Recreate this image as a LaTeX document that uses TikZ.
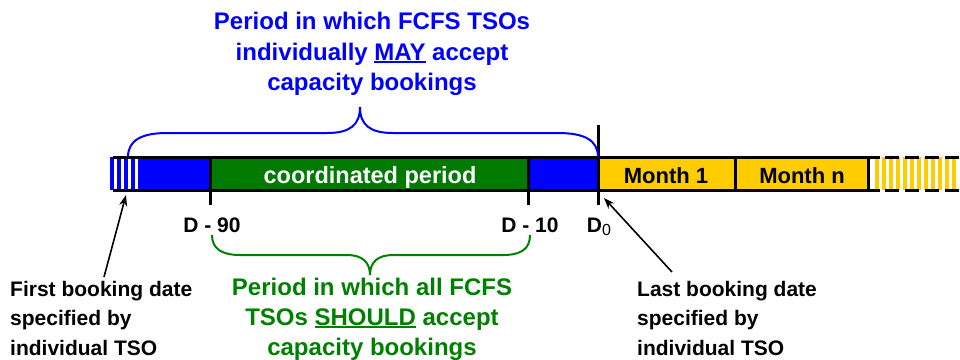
\documentclass[tikz,border=0pt]{standalone}
\usepackage{fontspec}
\setmainfont{Liberation Sans}
\usetikzlibrary{arrows.meta}
\definecolor{myblue}{RGB}{0,0,255}
\definecolor{mygreen}{RGB}{0,128,0}
\definecolor{bargreen}{RGB}{0,122,0}
\definecolor{myyellow}{RGB}{255,204,0}
\newcommand\myul[1]{\setbox0\hbox{#1}\rlap{\rule[-3pt]{\wd0}{1.6pt}}\box0\relax}
\begin{document}
\begin{tikzpicture}[x=1pt,y=-1pt,
  bluetxt/.style={font=\fontsize{24}{24}\selectfont\bfseries, text=myblue, anchor=base, inner sep=0pt},
  greentxt/.style={font=\fontsize{24}{24}\selectfont\bfseries, text=mygreen, anchor=base, inner sep=0pt},
  blacktxt/.style={font=\fontsize{21}{21}\selectfont\bfseries, anchor=base west, inner sep=0pt},
  datetxt/.style={font=\fontsize{21}{21}\selectfont\bfseries, anchor=base, inner sep=0pt},
  bartxt/.style={font=\fontsize{22}{22}\selectfont\bfseries, anchor=base, inner sep=0pt},
  barline/.style={line width=3pt},
  bracestyle/.style={line width=2pt},
  arr/.style={line width=1.6pt, -{Stealth[length=11pt,width=8pt]}}]
\useasboundingbox (0,0) rectangle (960,359);

% bar fills
\foreach \s in {110,117,124,131,138}{\fill[myblue] (\s,157) rectangle ++(3.5,33);}
\fill[myblue] (142,157) rectangle (210,190);
\fill[bargreen] (210,157) rectangle (528,190);
\fill[myblue] (528,157) rectangle (598,190);
\fill[myyellow] (598,157) rectangle (868,190);
\foreach \s in {875,882,889,896,903,910,917,924,931,938,945,952}{\fill[myyellow] (\s,157) rectangle ++(3.5,33);}

% bar lines
\draw[barline] (113,157) -- (868,157);
\draw[barline] (113,190) -- (868,190);
\draw[barline] (868,155.5) -- (868,191.5);
\draw[barline] (735,155.5) -- (735,191.5);
\draw[barline] (210,155.5) -- (210,205);
\draw[barline] (528,155.5) -- (528,205);
\draw[barline] (598,125) -- (598,205);
\foreach \s in {866,885,905,925,945}{
  \draw[barline] (\s,157) -- ++(14,0);
  \draw[barline] (\s,190) -- ++(14,0);}

% bar texts
\node[bartxt, font=\fontsize{23.5}{23.5}\selectfont\bfseries, text=white] (coord) at (370,183) {coordinated period};
\node[bartxt] (m1) at (666,183) {Month 1};
\node[bartxt] (mn) at (802,183) {Month n};

% date labels
\node[datetxt] (d90) at (212,232) {D - 90};
\node[datetxt] (d10) at (530,232) {D - 10};
\node[datetxt] (d0) at (599,232) {D\raisebox{-3pt}{\fontsize{16}{16}\selectfont\mdseries 0}};

% blue brace
\draw[myblue, bracestyle] (128,157) .. controls (128,140) and (142,133) .. (167,133)
  -- (327,133) .. controls (350,133) and (360,125) .. (360,107)
  .. controls (360,125) and (370,133) .. (393,133)
  -- (558,133) .. controls (584,133) and (598,140) .. (598,157);

% green brace
\draw[mygreen, bracestyle] (212,235) .. controls (212,249) and (222,255) .. (240,255)
  -- (347,255) .. controls (362,255) and (370,262) .. (370,275)
  .. controls (370,262) and (378,255) .. (393,255)
  -- (503,255) .. controls (521,255) and (530,249) .. (530,235);

% blue text
\node[bluetxt] (b1) at (372,29.5) {Period in which FCFS TSOs};
\node[bluetxt] (b2) at (372,60) {individually \myul{MAY} accept};
\node[bluetxt] (b3) at (372,90.5) {capacity bookings};

% green text
\node[greentxt] (g1) at (372,295) {Period in which all FCFS};
\node[greentxt] (g2) at (372,325) {TSOs \myul{SHOULD} accept};
\node[greentxt] (g3) at (372,355) {capacity bookings};

% black texts
\node[blacktxt] (l1) at (10,296) {First booking date};
\node[blacktxt] (l2) at (10,325.5) {specified by};
\node[blacktxt] (l3) at (10,355) {individual TSO};
\node[blacktxt] (r1) at (637,296) {Last booking date};
\node[blacktxt] (r2) at (637,325.5) {specified by};
\node[blacktxt] (r3) at (637,355) {individual TSO};

% arrows
\coordinate (lt) at (104,277);
\coordinate (lh) at (126,195);
\coordinate (rt) at (672,272);
\coordinate (rh) at (604,198);
\draw[arr] (lt) -- (lh);
\draw[arr] (rt) -- (rh);
\end{tikzpicture}
\end{document}
